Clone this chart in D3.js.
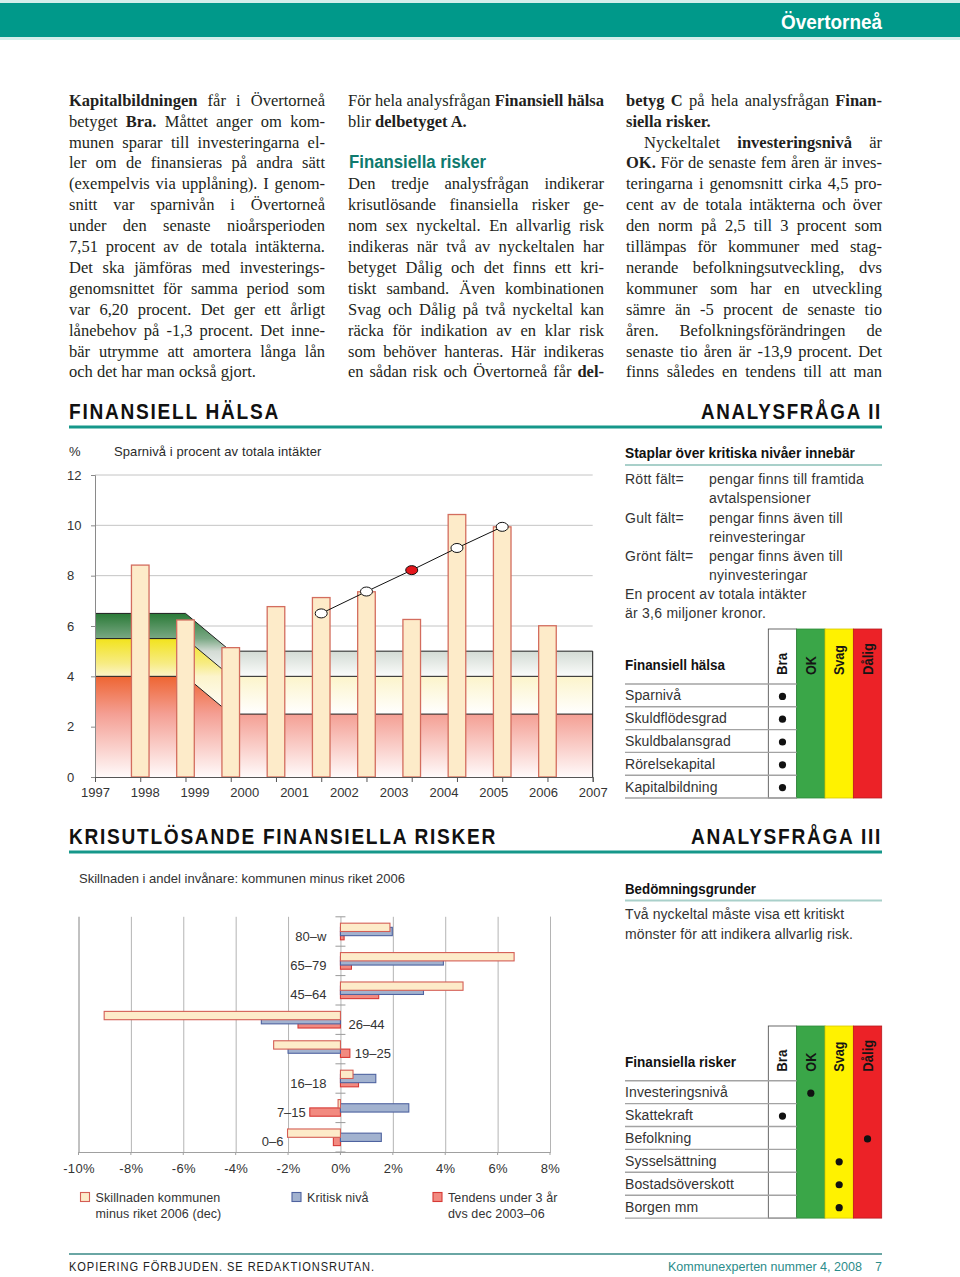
<!DOCTYPE html>
<html><head><meta charset="utf-8">
<script src="https://cdn.jsdelivr.net/npm/d3@7"></script>
<style>
body{margin:0;background:#fff;}
#page{position:relative;width:960px;height:1277px;overflow:hidden;background:#fff;}
svg{position:absolute;left:0;top:0;}
.ln{position:absolute;white-space:nowrap;font-family:"Liberation Serif","Times New Roman",serif;font-size:16.5px;line-height:21px;color:#231f20;}
.ln b{font-weight:bold;}
</style></head><body><div id="page"></div>
<script>
// ---------- DATA ----------
const years = ["1997","1998","1999","2000","2001","2002","2003","2004","2005","2006","2007"];
const sparniva = [8.42, 6.24, 5.14, 6.77, 7.13, 7.36, 6.26, 10.43, 9.94, 6.01];
const trendStart = 4;               // first bar index carrying the trend line
const trendValues = [6.5, 7.37, 8.22, 9.1, 9.94];
const trendHighlight = 2;           // red point within the trend
const yTicks1 = [0, 2, 4, 6, 8, 10, 12];
const bandSlots = [0, 2, 3, 11];
const redTop = [4, 4, 2.5, 2.5];
const yellowTop = [5.5, 5.5, 4, 4];
const greenTop = [6.5, 6.5, 5, 5];

const ageGroups = ["80–w","65–79","45–64","26–44","19–25","16–18","7–15","0–6"];
const skillnad = [1.89, 6.63, 4.68, -9.02, -2.55, 0.48, -0.09, -2.02];
const kritisk  = [1.98, 3.93, 3.17, -3.02, -2.0, 1.35, 2.61, 1.56];
const tendens  = [0.14, 0.42, 1.46, -1.62, 0.36, 0.69, -1.17, -0.27];
const xTicks2 = [-10, -8, -6, -4, -2, 0, 2, 4, 6, 8];

const grades = ["Bra","OK","Svag","Dålig"];
const halsaRows = ["Sparnivå","Skuldflödesgrad","Skuldbalansgrad","Rörelsekapital","Kapitalbildning"];
const halsaGrades = ["Bra","Bra","Bra","Bra","Bra"];
const riskRows = ["Investeringsnivå","Skattekraft","Befolkning","Sysselsättning","Bostadsöverskott","Borgen mm"];
const riskGrades = ["OK","Bra","Dålig","Svag","Svag","Svag"];

// ---------- PAGE ----------
const page = d3.select("#page");
const svg = page.append("svg").attr("width",960).attr("height",1277);
const SANS = "'Liberation Sans', Arial, sans-serif";
const TEAL = "#00998a";

function txt(g, x, y, s, o = {}) {
  const t = g.append("text").attr("x", x).attr("y", y).text(s)
    .attr("font-family", o.family || SANS)
    .attr("font-size", o.size || 13)
    .attr("font-weight", o.weight || "normal")
    .attr("fill", o.fill || "#2a2a2a")
    .attr("text-anchor", o.anchor || "start");
  if (o.len) t.attr("textLength", o.len).attr("lengthAdjust", "spacingAndGlyphs");
  if (o.ls) t.attr("letter-spacing", o.ls);
  return t;
}

// header bar
svg.append("rect").attr("x",0).attr("y",0).attr("width",960).attr("height",40).attr("fill","#d3efeb");
svg.append("rect").attr("x",0).attr("y",3).attr("width",960).attr("height",34).attr("fill",TEAL);
txt(svg, 781, 29, "Övertorneå", {size:21, weight:"bold", fill:"#fff", len:101});

// ---------- PARAGRAPHS ----------
const BASE0 = 105.8, PITCH = 20.9;
function para(x, width, lines) {
  lines.forEach(l => {
    const div = page.append("div").attr("class","ln")
      .style("left", x + "px").style("top", (BASE0 + l.k * PITCH - 16.1) + "px");
    const span = div.append("span").html(l.t);
    const ind = l.ind || 0;
    if (ind) span.style("margin-left", ind + "px");
    const w = span.node().getBoundingClientRect().width + ind;
    const s = span.node().textContent;
    const n = (s.match(/ /g) || []).length;
    if (w > width) span.style("letter-spacing", ((width - w) / s.length) + "px");
    else if (l.j && n > 0) span.style("word-spacing", ((width - w) / n) + "px");
  });
}
para(69, 256, [
  {k:0, j:1, t:"<b>Kapitalbildningen</b> får i Övertorneå"},
  {k:1, j:1, t:"betyget <b>Bra.</b> Måttet anger om kom-"},
  {k:2, j:1, t:"munen sparar till investeringarna el-"},
  {k:3, j:1, t:"ler om de finansieras på andra sätt"},
  {k:4, j:1, t:"(exempelvis via upplåning). I genom-"},
  {k:5, j:1, t:"snitt var sparnivån i Övertorneå"},
  {k:6, j:1, t:"under den senaste nioårsperioden"},
  {k:7, j:1, t:"7,51 procent av de totala intäkterna."},
  {k:8, j:1, t:"Det ska jämföras med investerings-"},
  {k:9, j:1, t:"genomsnittet för samma period som"},
  {k:10, j:1, t:"var 6,20 procent. Det ger ett årligt"},
  {k:11, j:1, t:"lånebehov på -1,3 procent. Det inne-"},
  {k:12, j:1, t:"bär utrymme att amortera långa lån"},
  {k:13, j:0, t:"och det har man också gjort."}
]);
para(348, 256, [
  {k:0, j:1, t:"För hela analysfrågan <b>Finansiell hälsa</b>"},
  {k:1, j:0, t:"blir <b>delbetyget A.</b>"},
  {k:4, j:1, t:"Den tredje analysfrågan indikerar"},
  {k:5, j:1, t:"krisutlösande finansiella risker ge-"},
  {k:6, j:1, t:"nom sex nyckeltal. En allvarlig risk"},
  {k:7, j:1, t:"indikeras när två av nyckeltalen har"},
  {k:8, j:1, t:"betyget Dålig och det finns ett kri-"},
  {k:9, j:1, t:"tiskt samband. Även kombinationen"},
  {k:10, j:1, t:"Svag och Dålig på två nyckeltal kan"},
  {k:11, j:1, t:"räcka för indikation av en klar risk"},
  {k:12, j:1, t:"som behöver hanteras. Här indikeras"},
  {k:13, j:1, t:"en sådan risk och Övertorneå får <b>del-</b>"}
]);
para(626, 256, [
  {k:0, j:1, t:"<b>betyg C</b> på hela analysfrågan <b>Finan-</b>"},
  {k:1, j:0, t:"<b>siella risker.</b>"},
  {k:2, j:1, ind:18, t:"Nyckeltalet <b>investeringsnivå</b> är"},
  {k:3, j:1, t:"<b>OK.</b> För de senaste fem åren är inves-"},
  {k:4, j:1, t:"teringarna i genomsnitt cirka 4,5 pro-"},
  {k:5, j:1, t:"cent av de totala intäkterna och över"},
  {k:6, j:1, t:"den norm på 2,5 till 3 procent som"},
  {k:7, j:1, t:"tillämpas för kommuner med stag-"},
  {k:8, j:1, t:"nerande befolkningsutveckling, dvs"},
  {k:9, j:1, t:"kommuner som har en utveckling"},
  {k:10, j:1, t:"sämre än -5 procent de senaste tio"},
  {k:11, j:1, t:"åren. Befolkningsförändringen de"},
  {k:12, j:1, t:"senaste tio åren är -13,9 procent. Det"},
  {k:13, j:1, t:"finns således en tendens till att man"}
]);
txt(svg, 349, 167.7, "Finansiella risker", {size:17.5, weight:"bold", fill:"#0f7a6e", len:137});

// ---------- SECTION HEADERS ----------
txt(svg, 69, 419, "FINANSIELL HÄLSA", {size:22, weight:"bold", fill:"#111", len:211, ls:2});
txt(svg, 882, 419, "ANALYSFRÅGA II", {size:22, weight:"bold", fill:"#111", len:181, ls:2, anchor:"end"});
svg.append("rect").attr("x",69).attr("y",425.5).attr("width",813).attr("height",3).attr("fill","#16978a");
txt(svg, 69, 843.5, "KRISUTLÖSANDE FINANSIELLA RISKER", {size:22, weight:"bold", fill:"#111", len:428, ls:2});
txt(svg, 882, 843.5, "ANALYSFRÅGA III", {size:22, weight:"bold", fill:"#111", len:191, ls:2, anchor:"end"});
svg.append("rect").attr("x",69).attr("y",850.5).attr("width",813).attr("height",3).attr("fill","#16978a");

// ---------- CHART 1 ----------
const c1 = svg.append("g");
const slotX = d3.scaleLinear().domain([0, 11]).range([95, 592.7]);
const yearX = d3.scalePoint().domain(years).range([95, 592.7]);
const y1 = d3.scaleLinear().domain([0, 12]).range([777, 475]);

txt(c1, 69, 456, "%", {size:13});
txt(c1, 114, 456, "Sparnivå i procent av totala intäkter", {size:13, ls:0.1});

// grid
c1.append("g").selectAll("line").data(yTicks1.filter(d => d > 0)).join("line")
  .attr("x1", slotX(0)).attr("x2", slotX(11)).attr("y1", d => y1(d)).attr("y2", d => y1(d))
  .attr("stroke", "#c4c4c4").attr("stroke-width", 1);

// gradients
const defs = svg.append("defs");
function grad(id, vTop, vBot, stops) {
  const g = defs.append("linearGradient").attr("id", id).attr("gradientUnits","userSpaceOnUse")
    .attr("x1",0).attr("x2",0).attr("y1", y1(vTop)).attr("y2", y1(vBot));
  stops.forEach(s => g.append("stop").attr("offset", (vTop - s[0]) / (vTop - vBot)).attr("stop-color", s[1]));
}
grad("gGreen", 6.5, 4, [[6.5,"#2a7a37"],[5.5,"#7aa884"],[5.0,"#d3dbd4"],[4.0,"#fbfcfb"]]);
grad("gYellow", 5.5, 2.5, [[5.5,"#f2e31c"],[4.5,"#f7ec85"],[4.0,"#fcf4cb"],[2.5,"#ffffff"]]);
grad("gRed", 4, 0, [[4,"#ee6532"],[2.5,"#f49f94"],[0,"#fffafa"]]);

const zeros = bandSlots.map(() => 0);
const bands = [
  {lo: zeros, hi: redTop, fill: "url(#gRed)"},
  {lo: redTop, hi: yellowTop, fill: "url(#gYellow)"},
  {lo: yellowTop, hi: greenTop, fill: "url(#gGreen)"}
];
const area = d3.area().x(d => slotX(d.s)).y0(d => y1(d.lo)).y1(d => y1(d.hi));
bands.forEach(b => {
  const pts = bandSlots.map((s, i) => ({s, lo: b.lo[i], hi: b.hi[i]}));
  c1.append("path").attr("d", area(pts)).attr("fill", b.fill);
});
const bline = d3.line().x(d => slotX(d.s)).y(d => y1(d.v));
[redTop, yellowTop, greenTop].forEach(arr => {
  c1.append("path").attr("d", bline(bandSlots.map((s, i) => ({s, v: arr[i]}))))
    .attr("fill","none").attr("stroke","#1e1e1e").attr("stroke-width",1);
});
c1.append("line").attr("x1", slotX(11)).attr("x2", slotX(11))
  .attr("y1", y1(0)).attr("y2", y1(greenTop[greenTop.length-1])).attr("stroke","#1e1e1e");

// bars
const barW = 17.6;
c1.append("g").selectAll("rect").data(sparniva).join("rect")
  .attr("x", (d, i) => slotX(i + 1) - barW / 2).attr("width", barW)
  .attr("y", d => y1(d)).attr("height", d => y1(0) - y1(d))
  .attr("fill", "#fdebc9").attr("stroke", "#d36d5e").attr("stroke-width", 1.3);

// trend line
const tline = d3.line().x((d, i) => slotX(trendStart + i + 1)).y(d => y1(d));
c1.append("path").attr("d", tline(trendValues)).attr("fill","none").attr("stroke","#111").attr("stroke-width",1);
c1.append("g").selectAll("ellipse").data(trendValues).join("ellipse")
  .attr("cx", (d, i) => slotX(trendStart + i + 1)).attr("cy", d => y1(d))
  .attr("rx", 6).attr("ry", 4.5)
  .attr("fill", (d, i) => i === trendHighlight ? "#e3161c" : "#fff")
  .attr("stroke", "#111").attr("stroke-width", 1);

// axes
const yAx = c1.append("g").attr("transform", `translate(${slotX(0)},0)`)
  .call(d3.axisLeft(y1).tickValues(yTicks1).tickSize(4).tickFormat(d3.format("d")));
yAx.select(".domain").attr("stroke", "#8a8a8a");
yAx.selectAll(".tick line").attr("stroke", "#8a8a8a");
yAx.selectAll(".tick text").attr("text-anchor","start").attr("x", 67 - slotX(0))
  .attr("font-family", SANS).attr("font-size", 13).attr("fill", "#333");

const xAx = c1.append("g").attr("transform", `translate(0,${y1(0)})`)
  .call(d3.axisBottom(slotX).tickValues(d3.range(0, 12)).tickSize(5).tickFormat(""));
xAx.select(".domain").attr("stroke", "#555");
xAx.selectAll(".tick line").attr("stroke", "#555");
const xLab = c1.append("g").attr("transform", `translate(0,${y1(0)})`)
  .call(d3.axisBottom(yearX).tickSize(0).tickPadding(11));
xLab.select(".domain").remove();
xLab.selectAll("text").attr("font-family", SANS).attr("font-size", 13).attr("fill", "#333");

// ---------- RIGHT: ANALYSFRÅGA II ----------
const r1 = svg.append("g");
txt(r1, 625, 458.3, "Staplar över kritiska nivåer innebär", {size:14, weight:"bold", fill:"#111", len:230});
r1.append("rect").attr("x",625).attr("y",464).attr("width",257).attr("height",2).attr("fill","#a9d0ca");
const legendRows = [
  ["Rött fält=", "pengar finns till framtida"], ["", "avtalspensioner"],
  ["Gult fält=", "pengar finns även till"], ["", "reinvesteringar"],
  ["Grönt fält=", "pengar finns även till"], ["", "nyinvesteringar"],
  ["En procent av totala intäkter", ""], ["är 3,6 miljoner kronor.", ""]
];
legendRows.forEach((r, i) => {
  const yy = 484.3 + i * 19.14;
  if (r[0]) txt(r1, 625, yy, r[0], {size:14, fill:"#333", ls:0.25});
  if (r[1]) txt(r1, 709, yy, r[1], {size:14, fill:"#333", ls:0.25});
});

function drawTable(g, top, hdrBottom, rowH, title, titleLen, rows, rowGrades) {
  const cols = d3.scaleBand().domain(grades).range([768.3, 881.7]);
  const bottom = hdrBottom + rowH * rows.length;
  const fills = {"Bra":"#ffffff","OK":"#3aa648","Svag":"#fff200","Dålig":"#ec2227"};
  const strokes = {"Bra":"#444","OK":"#2f8a3b","Svag":"#d8c800","Dålig":"#b81a1e"};
  grades.forEach(gr => {
    g.append("rect").attr("x", cols(gr)).attr("y", top).attr("width", cols.bandwidth())
      .attr("height", bottom - top).attr("fill", fills[gr]).attr("stroke", strokes[gr]).attr("stroke-width", 0.8);
  });
  d3.range(rows.length + 1).forEach(i => {
    const yy = hdrBottom + i * rowH;
    g.append("line").attr("x1", 625).attr("x2", cols("OK")).attr("y1", yy).attr("y2", yy)
      .attr("stroke", "#a3a3a3").attr("stroke-width", 1.4);
  });
  const hl = {"Bra":22,"OK":19,"Svag":30,"Dålig":32};
  grades.forEach(gr => {
    g.append("text").attr("transform", `translate(${cols(gr) + cols.bandwidth()/2 + 5},${hdrBottom - 9}) rotate(-90)`)
      .text(gr).attr("font-family", SANS).attr("font-weight","bold").attr("font-size", 14)
      .attr("fill", "#151515").attr("textLength", hl[gr]).attr("lengthAdjust","spacingAndGlyphs");
  });
  txt(g, 625, hdrBottom - 14, title, {size:14, weight:"bold", fill:"#111", len:titleLen});
  rows.forEach((r, i) => {
    const cy = hdrBottom + (i + 0.5) * rowH;
    txt(g, 625, cy + 5, r, {size:14, fill:"#333", ls:0.1});
    g.append("circle").attr("cx", cols(rowGrades[i]) + cols.bandwidth()/2).attr("cy", cy + 1)
      .attr("r", 3.6).attr("fill", "#111");
  });
}
drawTable(r1, 629, 684, 22.8, "Finansiell hälsa", 100, halsaRows, halsaGrades);

// ---------- CHART 2 ----------
const c2 = svg.append("g");
txt(c2, 79, 882.5, "Skillnaden i andel invånare: kommunen minus riket 2006", {size:13, fill:"#333"});
const x2 = d3.scaleLinear().domain([-10, 8]).range([78.5, 550]);
const yb = d3.scaleBand().domain(ageGroups).range([916.8, 1152]);
const top2 = 916.8, bot2 = 1152;

const gx = c2.append("g").attr("transform", `translate(0,${bot2})`)
  .call(d3.axisBottom(x2).tickValues(xTicks2).tickSize(-(bot2 - top2)).tickPadding(12)
    .tickFormat(d => d + "%"));
gx.select(".domain").attr("stroke", "#a0a0a0");
gx.selectAll(".tick line").attr("stroke", "#b4b4b4");
gx.selectAll(".tick text").attr("font-family", SANS).attr("font-size", 13).attr("fill", "#333").attr("letter-spacing", 0.3);
c2.append("g").selectAll("line").data(xTicks2).join("line")
  .attr("x1", d => x2(d)).attr("x2", d => x2(d)).attr("y1", bot2).attr("y2", bot2 + 3).attr("stroke", "#a0a0a0");

// category boundary ticks on zero axis
c2.append("g").selectAll("line").data(d3.range(ageGroups.length + 1)).join("line")
  .attr("x1", x2(0) - 5).attr("x2", x2(0) + 5)
  .attr("y1", i => top2 + i * yb.bandwidth()).attr("y2", i => top2 + i * yb.bandwidth())
  .attr("stroke", "#9a9a9a");

const bh = yb.bandwidth() * 0.283, off = bh / 2;
const pad = (yb.bandwidth() - (bh + 2 * off)) / 2;
const series = [
  {vals: tendens, k: 2, fill: "#f28a80", stroke: "#d63a36"},
  {vals: kritisk, k: 1, fill: "#a2b2cf", stroke: "#4f63a0"},
  {vals: skillnad, k: 0, fill: "#fdebc9", stroke: "#d45e55"}
];
series.forEach(s => {
  c2.append("g").selectAll("rect").data(s.vals).join("rect")
    .attr("x", d => Math.min(x2(0), x2(d))).attr("width", d => Math.abs(x2(d) - x2(0)))
    .attr("y", (d, i) => yb(ageGroups[i]) + pad + s.k * off).attr("height", bh)
    .attr("fill", s.fill).attr("stroke", s.stroke).attr("stroke-width", 1.1);
});

// category labels: on the side opposite to the critical-level bar
ageGroups.forEach((a, i) => {
  const vals = [skillnad[i], kritisk[i], tendens[i]];
  const cy = yb(a) + yb.bandwidth() / 2 + 9;
  if (kritisk[i] >= 0) {
    const minNeg = Math.min(0, ...vals);
    const xe = Math.min(x2(0) - 14, x2(minNeg) - 4);
    txt(c2, xe, cy, a, {size:13, fill:"#333", anchor:"end"});
  } else {
    const maxPos = Math.max(0, ...vals);
    const xs = Math.max(x2(0) + 8, x2(maxPos) + 5);
    txt(c2, xs, cy, a, {size:13, fill:"#333"});
  }
});

// legend
const leg = [
  {x: 80.5, fill: "#fdebc9", stroke: "#d45e55", l1: "Skillnaden kommunen", l2: "minus riket 2006 (dec)"},
  {x: 292, fill: "#a2b2cf", stroke: "#4f63a0", l1: "Kritisk nivå", l2: ""},
  {x: 433, fill: "#f28a80", stroke: "#d63a36", l1: "Tendens under 3 år", l2: "dvs dec 2003–06"}
];
leg.forEach(l => {
  c2.append("rect").attr("x", l.x).attr("y", 1192.5).attr("width", 9).attr("height", 9)
    .attr("fill", l.fill).attr("stroke", l.stroke).attr("stroke-width", 1.1);
  txt(c2, l.x + 15, 1201.5, l.l1, {size:12.5, fill:"#333", ls:0.1});
  if (l.l2) txt(c2, l.x + 15, 1217.5, l.l2, {size:12.5, fill:"#333", ls:0.1});
});

// ---------- RIGHT: ANALYSFRÅGA III ----------
const r2 = svg.append("g");
txt(r2, 625, 894, "Bedömningsgrunder", {size:14, weight:"bold", fill:"#111", len:131});
r2.append("rect").attr("x",625).attr("y",899.5).attr("width",257).attr("height",2).attr("fill","#a9d0ca");
txt(r2, 625, 919, "Två nyckeltal måste visa ett kritiskt", {size:14, fill:"#333", ls:0.1});
txt(r2, 625, 938.5, "mönster för att indikera allvarlig risk.", {size:14, fill:"#333", ls:0.1});
drawTable(r2, 1026, 1080.7, 22.9, "Finansiella risker", 111, riskRows, riskGrades);

// ---------- FOOTER ----------
svg.append("rect").attr("x",69).attr("y",1253).attr("width",813).attr("height",2).attr("fill","#6aa6a4");
txt(svg, 69, 1271, "KOPIERING FÖRBJUDEN. SE REDAKTIONSRUTAN.", {size:12, fill:"#222", len:306, ls:1});
txt(svg, 862, 1271, "Kommunexperten nummer 4, 2008", {size:12, fill:"#2b8c8a", len:194, anchor:"end"});
txt(svg, 882, 1271, "7", {size:12, fill:"#2b8c8a", anchor:"end"});
</script></body></html>
